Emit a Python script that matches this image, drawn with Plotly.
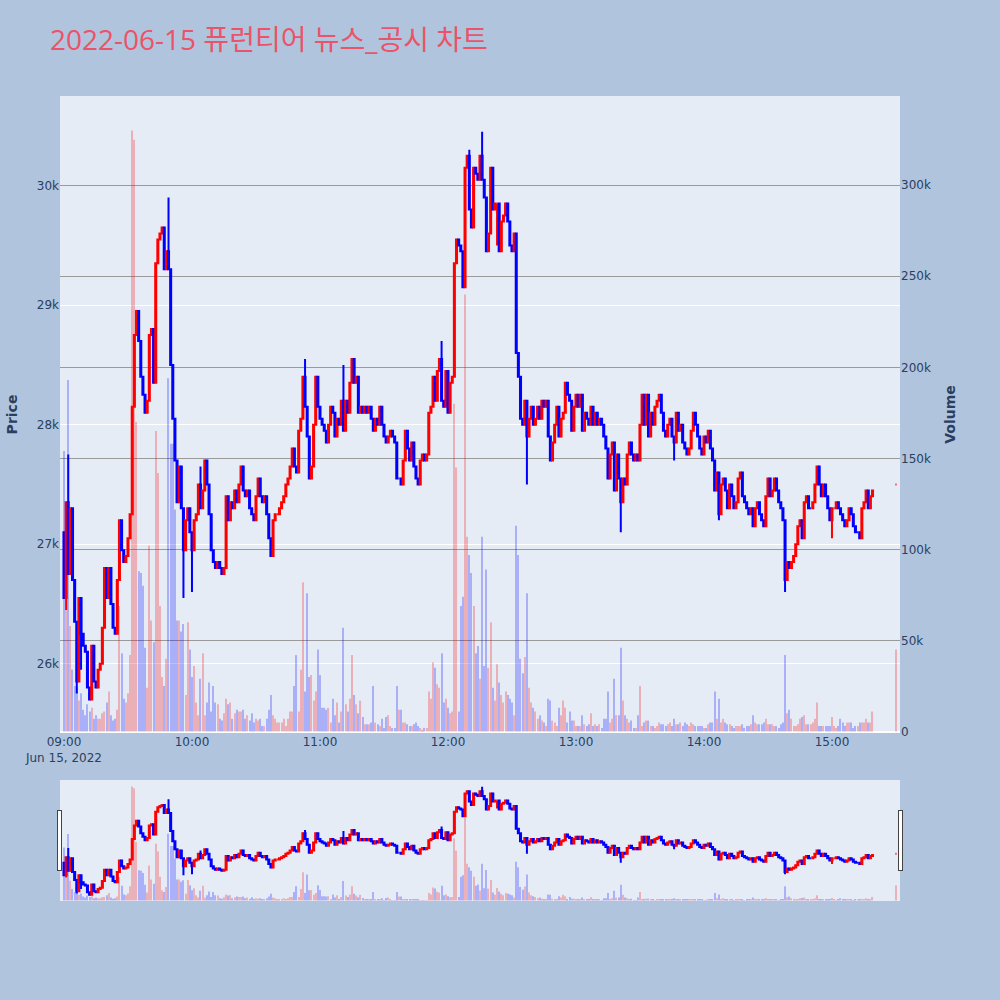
import pandas as pd
import plotly.graph_objects as go
from plotly.subplots import make_subplots

# ---------------- data ----------------
SESSION_START = "2022-06-15 09:00"
N_MINUTES = 380                      # 09:00 .. 15:19, one candle per minute
CLOSING_TIME = "2022-06-15 15:30"    # closing auction print

FIRST_OPEN = 27100

CLOSES = [
    26550, 27350, 26750, 27300, 26700, 26350, 25850, 26550, 26250, 26150,   # 09:00
    26100, 25800, 25700, 26150, 25850, 25800, 25950, 26000, 26300, 26800,   # 09:10
    26550, 26800, 26500, 26300, 26250, 26700, 27200, 26950, 26850, 26900,   # 09:20
    27050, 27250, 28150, 28750, 28950, 28700, 28400, 28250, 28100, 28200,   # 09:30
    28750, 28800, 28350, 29350, 29550, 29600, 29650, 29300, 29450, 29300,   # 09:40
    28500, 28050, 27700, 27350, 27650, 27300, 26950, 27200, 27300, 27100,   # 09:50
    26950, 27200, 27250, 27500, 27300, 27450, 27700, 27500, 27250, 26950,   # 10:00
    26850, 26800, 26850, 26800, 26750, 26800, 27400, 27200, 27350, 27300,   # 10:10
    27450, 27350, 27500, 27650, 27450, 27400, 27450, 27300, 27250, 27200,   # 10:20
    27400, 27550, 27400, 27350, 27400, 27250, 27050, 26900, 27200, 27250,   # 10:30
    27250, 27300, 27350, 27400, 27500, 27550, 27650, 27800, 27650, 27600,   # 10:40
    27950, 28050, 28400, 28150, 27900, 27550, 27650, 28000, 28400, 28150,   # 10:50
    28050, 28000, 27950, 27850, 28000, 28150, 28100, 27900, 28050, 28000,   # 11:00
    28200, 27950, 28200, 28100, 28350, 28550, 28350, 28400, 28100, 28150,   # 11:10
    28100, 28150, 28100, 28150, 28050, 27950, 28050, 28000, 28150, 28000,   # 11:20
    27900, 27850, 27900, 27950, 27900, 27850, 27550, 27550, 27500, 27700,   # 11:30
    27950, 27800, 27700, 27850, 27650, 27550, 27500, 27700, 27750, 27700,   # 11:40
    27750, 28100, 28150, 28400, 28200, 28450, 28550, 28200, 28150, 28450,   # 11:50
    28100, 28350, 28400, 29350, 29550, 29500, 29450, 29150, 30150, 30250,   # 12:00
    29800, 29650, 30150, 30100, 30050, 30250, 30050, 29900, 29450, 29600,   # 12:10
    30150, 29800, 29850, 29850, 29450, 29700, 29750, 29850, 29700, 29500,   # 12:20
    29450, 29600, 28600, 28400, 28050, 28000, 28200, 27900, 28050, 28150,   # 12:30
    28000, 28050, 28150, 28050, 28200, 28150, 28200, 27900, 27700, 27850,   # 12:40
    28000, 28150, 27900, 28050, 28100, 28350, 28250, 28200, 27950, 28150,   # 12:50
    28250, 28150, 28250, 27950, 28100, 28050, 28000, 28150, 28000, 28100,   # 13:00
    28000, 28050, 28000, 27900, 27800, 27550, 27750, 27850, 27450, 27750,   # 13:10
    27550, 27350, 27550, 27500, 27750, 27850, 27750, 27700, 27750, 27700,   # 13:20
    28000, 28250, 28000, 28250, 27900, 28100, 28000, 28150, 28200, 28250,   # 13:30
    28100, 27950, 27900, 28000, 28050, 27900, 27850, 28100, 27950, 28000,   # 13:40
    27850, 27800, 27750, 27800, 27950, 28100, 28000, 27900, 27800, 27750,   # 13:50
    27900, 27850, 27950, 27800, 27700, 27450, 27600, 27250, 27500, 27550,   # 14:00
    27450, 27300, 27500, 27400, 27300, 27350, 27550, 27600, 27400, 27350,   # 14:10
    27300, 27250, 27300, 27150, 27300, 27350, 27250, 27200, 27150, 27400,   # 14:20
    27550, 27400, 27450, 27550, 27450, 27350, 27300, 27200, 26700, 26850,   # 14:30
    26800, 26850, 26900, 27000, 27150, 27200, 27050, 27350, 27400, 27300,   # 14:40
    27300, 27350, 27500, 27650, 27500, 27400, 27500, 27400, 27300, 27200,   # 14:50
    27300, 27300, 27350, 27300, 27250, 27200, 27150, 27200, 27300, 27250,   # 15:00
    27150, 27100, 27100, 27050, 27300, 27350, 27450, 27300, 27400, 27450,   # 15:10
]
CLOSING_PRICE = 27500

# extra wicks (minute index -> price) where the shadow sticks out of the body
HIGH_WICKS = {2: 27750, 49: 29900, 64: 27650, 113: 28550, 131: 28500,
              177: 28700, 190: 30300, 196: 30450}
LOW_WICKS = {1: 26450, 6: 25750, 8: 25950, 56: 26550, 60: 26600, 203: 29500,
             217: 27500, 261: 27100, 286: 27700, 307: 27200, 338: 26600,
             360: 27050}

VOLUMES = [
    154000, 67000, 193000, 58000, 34000, 25000, 24000, 17000, 21000, 12000,
    9000, 15000, 11000, 13000, 7000, 9000, 7000, 7000, 10000, 11000,
    16000, 22000, 9000, 6000, 7000, 12000, 69000, 43000, 18000, 16000,
    21000, 42000, 330000, 325000, 170000, 88000, 87000, 80000, 46000, 24000,
    102000, 61000, 49000, 165000, 142000, 69000, 30000, 25000, 40000, 194000,
    158000, 158000, 122000, 61000, 61000, 55000, 59000, 20000, 60000, 45000,
    30000, 36000, 16000, 9000, 29000, 43000, 9000, 16000, 27000, 11000,
    25000, 16000, 15000, 7000, 6000, 10000, 18000, 15000, 16000, 7000,
    10000, 12000, 11000, 11000, 12000, 7000, 9000, 6000, 10000, 5000,
    7000, 6000, 7000, 3000, 3000, 7000, 12000, 20000, 9000, 7000,
    5000, 5000, 5000, 7000, 3000, 7000, 11000, 11000, 25000, 42000,
    11000, 34000, 82000, 22000, 76000, 30000, 31000, 17000, 22000, 45000,
    31000, 13000, 13000, 12000, 13000, 5000, 18000, 9000, 16000, 5000,
    11000, 57000, 15000, 11000, 18000, 42000, 20000, 15000, 10000, 17000,
    8000, 4000, 4000, 4000, 5000, 25000, 5000, 4000, 3000, 7000,
    2000, 8000, 9000, 3000, 2000, 2000, 25000, 12000, 12000, 5000,
    5000, 4000, 3000, 3000, 4000, 5000, 3000, 2000, 1000, 2000,
    2000, 22000, 18000, 38000, 35000, 26000, 24000, 43000, 16000, 18000,
    13000, 10000, 11000, 180000, 145000, 11000, 69000, 74000, 240000, 107000,
    97000, 87000, 69000, 43000, 47000, 29000, 107000, 36000, 89000, 35000,
    60000, 24000, 17000, 37000, 27000, 20000, 16000, 22000, 20000, 18000,
    16000, 9000, 113000, 97000, 40000, 32000, 41000, 76000, 24000, 16000,
    13000, 11000, 7000, 9000, 6000, 5000, 3000, 18000, 17000, 6000,
    5000, 3000, 13000, 9000, 17000, 13000, 5000, 11000, 6000, 6000,
    3000, 3000, 3000, 9000, 4000, 3000, 4000, 10000, 3000, 4000,
    3000, 4000, 2000, 7000, 7000, 22000, 5000, 7000, 29000, 9000,
    9000, 46000, 17000, 9000, 7000, 5000, 6000, 2000, 2000, 9000,
    25000, 3000, 5000, 6000, 6000, 3000, 3000, 2000, 3000, 5000,
    4000, 4000, 3000, 4000, 5000, 3000, 7000, 4000, 4000, 5000,
    3000, 5000, 4000, 3000, 5000, 4000, 3000, 3000, 3000, 3000,
    2000, 2000, 4000, 5000, 5000, 22000, 7000, 18000, 5000, 7000,
    5000, 4000, 4000, 3000, 2000, 3000, 3000, 3000, 4000, 2000,
    3000, 3000, 4000, 9000, 5000, 4000, 4000, 4000, 5000, 7000,
    4000, 4000, 4000, 3000, 3000, 2000, 4000, 5000, 42000, 10000,
    12000, 7000, 3000, 3000, 4000, 7000, 8000, 9000, 4000, 4000,
    4000, 5000, 7000, 16000, 3000, 3000, 3000, 3000, 3000, 3000,
    8000, 3000, 2000, 3000, 7000, 5000, 3000, 5000, 5000, 5000,
    2000, 3000, 3000, 5000, 5000, 5000, 7000, 5000, 5000, 11000,
]
CLOSING_VOLUME = 45000

TITLE = "2022-06-15 퓨런티어 뉴스_공시 차트"

# ---------------- assemble ----------------
times = list(pd.date_range(SESSION_START, periods=N_MINUTES, freq="min"))
times.append(pd.Timestamp(CLOSING_TIME))
closes = CLOSES + [CLOSING_PRICE]
opens = [FIRST_OPEN] + CLOSES[:]          # each minute opens at the previous close
opens[-1] = CLOSING_PRICE                  # single auction print
highs = [max(o, c, HIGH_WICKS.get(i, 0)) for i, (o, c) in enumerate(zip(opens, closes))]
lows = [min(o, c, LOW_WICKS.get(i, 10 ** 9)) for i, (o, c) in enumerate(zip(opens, closes))]
volumes = VOLUMES + [CLOSING_VOLUME]
vol_colors = []
prev = FIRST_OPEN
for o, c in zip(opens, closes):
    up = c > o if c != o else c >= prev
    vol_colors.append("red" if up else "blue")
    prev = c

fig = make_subplots(specs=[[{"secondary_y": True}]])
fig.add_trace(
    go.Candlestick(
        x=times, open=opens, high=highs, low=lows, close=closes,
        increasing=dict(line=dict(color="red"), fillcolor="red"),
        decreasing=dict(line=dict(color="blue"), fillcolor="blue"),
        name="Price",
    ),
    secondary_y=False,
)
fig.add_trace(
    go.Bar(x=times, y=volumes, width=30000,
           marker=dict(color=vol_colors, line=dict(width=0)),
           opacity=0.25, name="Volume"),
    secondary_y=True,
)

x_range = ["2022-06-15 08:58:08", "2022-06-15 15:31:53"]
fig.update_layout(
    width=1000, height=1000,
    paper_bgcolor="lightsteelblue",
    plot_bgcolor="#E5ECF6",
    showlegend=False,
    font=dict(family="DejaVu Sans, Verdana, sans-serif", size=12, color="#2a3f5f"),
    margin=dict(l=60, r=100, t=96, b=100),
    title=dict(text=TITLE, x=0.05, xanchor="left", y=0.96, yanchor="middle",
               font=dict(size=28, color="#EB5368",
                         family="Open Sans, Noto Sans CJK KR, sans-serif")),
    xaxis=dict(domain=[0, 1], range=x_range,
               rangeslider=dict(visible=True, range=x_range, thickness=0.15)),
)
fig.update_yaxes(title_text="<b>Price</b>", range=[25420, 30750], secondary_y=False)
fig.update_yaxes(title_text="<b>Volume</b>", range=[-800, 349000], showgrid=True,
                 gridcolor="#9a9a9a", secondary_y=True)

# remove the page's default body margin so the 1000x1000 figure fills the window
page_fix = ("document.documentElement.style.margin='0';"
            "document.body.style.margin='0';"
            "document.body.style.overflow='hidden';")
fig.write_html("out.html", post_script=page_fix, config={"displayModeBar": False})
